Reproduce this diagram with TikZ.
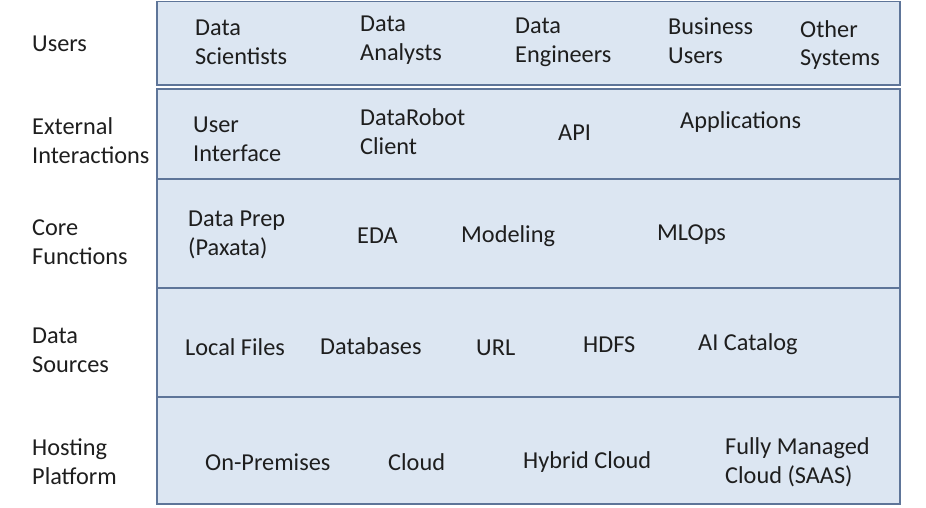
\documentclass[tikz,border=0pt]{standalone}
\usepackage{fontspec}
\setmainfont{Carlito}
\definecolor{layerfill}{HTML}{DCE6F2}
\definecolor{layerline}{HTML}{5E7599}
\definecolor{txt}{HTML}{1E1E1E}
\begin{document}
\begin{tikzpicture}[x=1pt,y=-1pt,
  layer/.style={draw=layerline,fill=layerfill,line width=1.1pt},
  lbl/.style={anchor=west,inner sep=0pt,align=left,text=txt,font=\fontsize{24.3}{28.8}\selectfont},
]
\useasboundingbox (0,0) rectangle (926,507);
% layers
\draw[layer] (157,1.5) rectangle (900,85);
\draw[layer] (157,89) rectangle (900,179);
\draw[layer] (157,179) rectangle (900,288);
\draw[layer] (157,288) rectangle (900,397);
\draw[layer] (157,397) rectangle (900,504);
% row labels
\node[lbl] (users) at (32,44) {Users};
\node[lbl] (ext) at (32,141) {External\\Interactions};
\node[lbl] (core) at (32,242) {Core\\Functions};
\node[lbl] (src) at (32,350) {Data\\Sources};
\node[lbl] (host) at (32,462) {Hosting\\Platform};
% users
\node[lbl] (ds) at (195,42) {Data\\Scientists};
\node[lbl] (da) at (360,40) {Data\\Analysts};
\node[lbl] (de) at (515,42) {Data\\Engineers};
\node[lbl] (bu) at (668,41) {Business\\Users};
\node[lbl] (os) at (800,45) {Other\\Systems};
% external
\node[lbl] (ui) at (193,139) {User\\Interface};
\node[lbl] (drc) at (360,132) {DataRobot\\Client};
\node[lbl] (api) at (558,133) {API};
\node[lbl] (apps) at (680,122) {Applications};
% core
\node[lbl] (prep) at (188,235) {Data Prep\\(Paxata)};
\node[lbl] (eda) at (357,236) {EDA};
\node[lbl] (mod) at (461,236) {Modeling};
\node[lbl] (mlops) at (657,235) {MLOps};
% sources
\node[lbl] (lf) at (185,347) {Local Files};
\node[lbl] (db) at (320,346) {Databases};
\node[lbl] (url) at (476,348) {URL};
\node[lbl] (hdfs) at (583,345) {HDFS};
\node[lbl] (aic) at (698,344) {AI Catalog};
% hosting
\node[lbl] (onp) at (205,462) {On-Premises};
\node[lbl] (cl) at (388,462) {Cloud};
\node[lbl] (hc) at (523,462) {Hybrid Cloud};
\node[lbl] (fm) at (725,462) {Fully Managed\\Cloud (SAAS)};
\end{tikzpicture}
\end{document}
